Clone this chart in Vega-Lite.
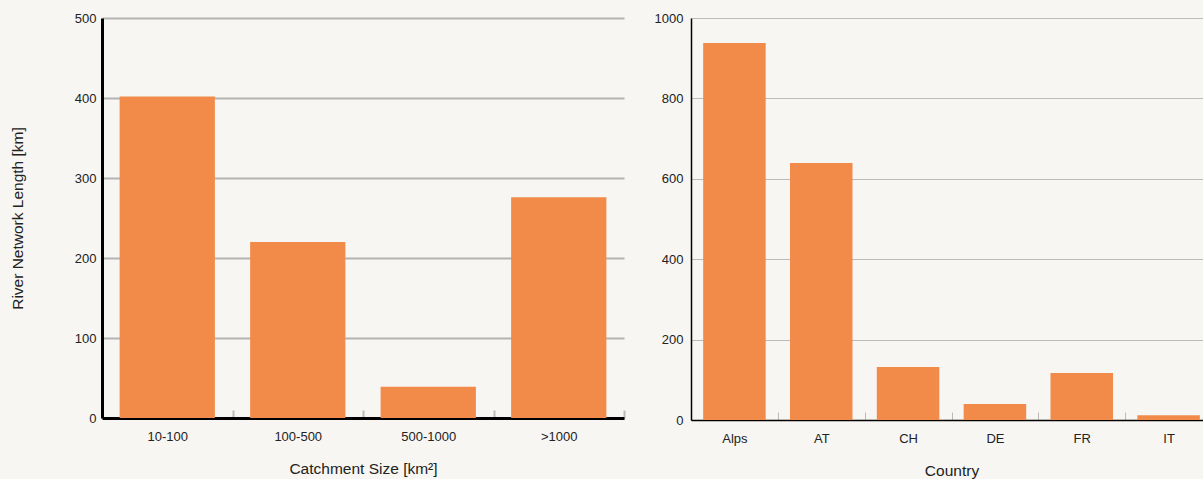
{
  "$schema": "https://vega.github.io/schema/vega-lite/v6.json",
  "background": "#f7f6f2",
  "padding": {"left": 10, "top": 12, "right": 0, "bottom": 0},
  "config": {
    "view": {"stroke": null},
    "font": "Liberation Sans",
    "concat": {"spacing": 29},
    "axis": {"labelFontSize": 13, "titleFontSize": 15.5, "titleFontWeight": "normal", "labelColor": "#222", "titleColor": "#222", "labelFont": "Liberation Sans", "titleFont": "Liberation Sans"}
  },
  "hconcat": [
    {
      "width": 522,
      "height": 400,
      "data": {"values": [
        {"size": "10-100", "length": 402},
        {"size": "100-500", "length": 220},
        {"size": "500-1000", "length": 39},
        {"size": ">1000", "length": 276}
      ]},
      "mark": {"type": "bar", "color": "#f28b49", "width": {"band": 0.73}},
      "encoding": {
        "x": {
          "field": "size", "type": "nominal", "sort": null, "title": "Catchment Size [km²]",
          "scale": {"paddingInner": 0, "paddingOuter": 0},
          "axis": {"labelAngle": 0, "domainColor": "#000", "domainWidth": 3, "tickBand": "extent", "tickSize": -8, "tickColor": "#bbb", "tickWidth": 2, "labelPadding": 20, "titlePadding": 18}
        },
        "y": {
          "field": "length", "type": "quantitative", "scale": {"domain": [0, 500]}, "title": "River Network Length [km]",
          "axis": {"values": [0, 100, 200, 300, 400, 500], "format": "d", "grid": true, "gridColor": "#b3b3b3", "gridWidth": 2, "ticks": false, "domainColor": "#000", "domainWidth": 3, "labelPadding": 6, "titlePadding": 49}
        }
      }
    },
    {
      "width": 521,
      "height": 402,
      "data": {"values": [
        {"country": "Alps", "length": 938},
        {"country": "AT", "length": 639},
        {"country": "CH", "length": 132},
        {"country": "DE", "length": 40},
        {"country": "FR", "length": 117},
        {"country": "IT", "length": 12}
      ]},
      "mark": {"type": "bar", "color": "#f28b49", "width": {"band": 0.72}},
      "encoding": {
        "x": {
          "field": "country", "type": "nominal", "sort": null, "title": "Country",
          "scale": {"paddingInner": 0, "paddingOuter": 0},
          "axis": {"labelAngle": 0, "domainColor": "#000", "domainWidth": 1.5, "tickBand": "extent", "tickSize": -8, "tickColor": "#bbb", "tickWidth": 1, "labelPadding": 20, "titlePadding": 18}
        },
        "y": {
          "field": "length", "type": "quantitative", "scale": {"domain": [0, 1000]}, "title": null,
          "axis": {"values": [0, 200, 400, 600, 800, 1000], "format": "d", "grid": true, "gridColor": "#bbb", "gridWidth": 1, "ticks": false, "domainColor": "#000", "domainWidth": 1.5, "labelPadding": 8}
        }
      }
    }
  ]
}
